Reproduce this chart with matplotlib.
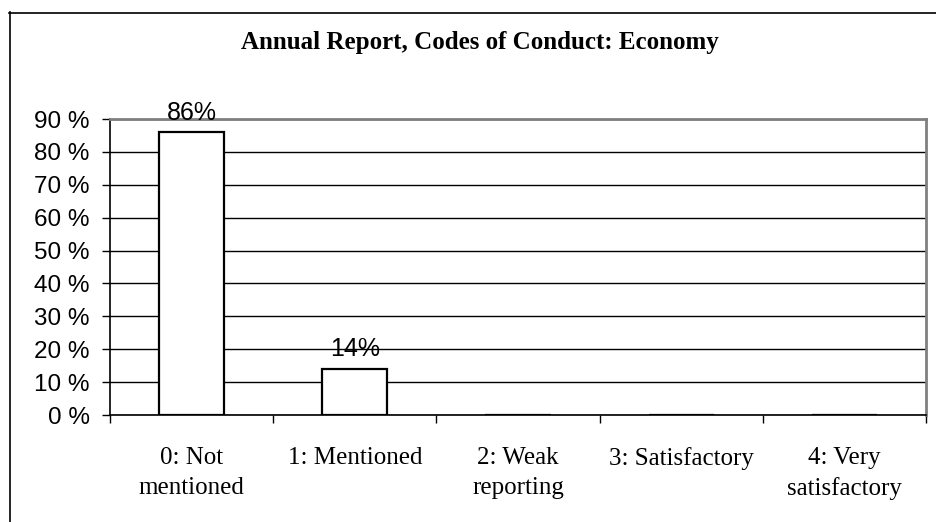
"""Bar chart: annual report scores for codes of conduct (economy)."""

import matplotlib
matplotlib.use("Agg")
import matplotlib.pyplot as plt
from matplotlib.lines import Line2D
from matplotlib.ticker import FixedLocator

categories = ["0: Not\nmentioned", "1: Mentioned", "2: Weak\nreporting",
              "3: Satisfactory", "4: Very\nsatisfactory"]
shares = [86, 14, 0, 0, 0]
bar_labels = ["86%", "14%", "", "", ""]
y_ticks = list(range(0, 100, 10))

W, H = 936, 522
fig = plt.figure(figsize=(W / 100, H / 100), dpi=100)
fig.patch.set_facecolor("white")

# outer chart frame (left and top edges only are visible)
fig.add_artist(Line2D([9.5 / W, 9.5 / W], [0, 1 - 12 / H], color="black", lw=1.2))
fig.add_artist(Line2D([9 / W, 1], [1 - 12.5 / H, 1 - 12.5 / H], color="black", lw=1.2))

ax = fig.add_axes([110 / W, 1 - 415 / H, (926 - 110) / W, (415 - 119) / H])
x = list(range(len(categories)))
ax.bar(x, shares, width=0.4, color="white", edgecolor="black", linewidth=1.6, zorder=3)

for xi, val, lab in zip(x, shares, bar_labels):
    if lab:
        ax.annotate(lab, (xi, val), xytext=(0, 9), textcoords="offset points",
                    ha="center", va="baseline", fontsize=18,
                    family="Liberation Sans", zorder=4)

ax.set_xlim(-0.5, len(categories) - 0.5)
ax.set_ylim(0, 90)
ax.set_yticks(y_ticks)
ax.set_yticklabels([f"{v} %" for v in y_ticks], family="Liberation Sans", fontsize=17.5)
ax.yaxis.grid(True, color="black", linewidth=1.0, zorder=0)
ax.set_axisbelow(True)

ax.set_xticks(x)
ax.set_xticklabels(categories, family="Liberation Serif", fontsize=18, linespacing=1.45)
ax.tick_params(axis="x", which="major", length=0, pad=23)
ax.xaxis.set_minor_locator(FixedLocator([i - 0.5 for i in range(len(categories) + 1)]))
ax.tick_params(axis="x", which="minor", length=6, width=1.0, color="black")
ax.tick_params(axis="y", length=6, width=1.0, pad=8.5)

for side in ("top", "right"):
    ax.spines[side].set_color("#808080")
    ax.spines[side].set_linewidth(2.0)
for side in ("left", "bottom"):
    ax.spines[side].set_color("black")
    ax.spines[side].set_linewidth(1.2)

fig.text(480 / W, 1 - 42 / H, "Annual Report, Codes of Conduct: Economy",
         ha="center", va="center", family="Liberation Serif",
         fontweight="bold", fontsize=18)

fig.savefig("out.png", dpi=100, facecolor="white")
